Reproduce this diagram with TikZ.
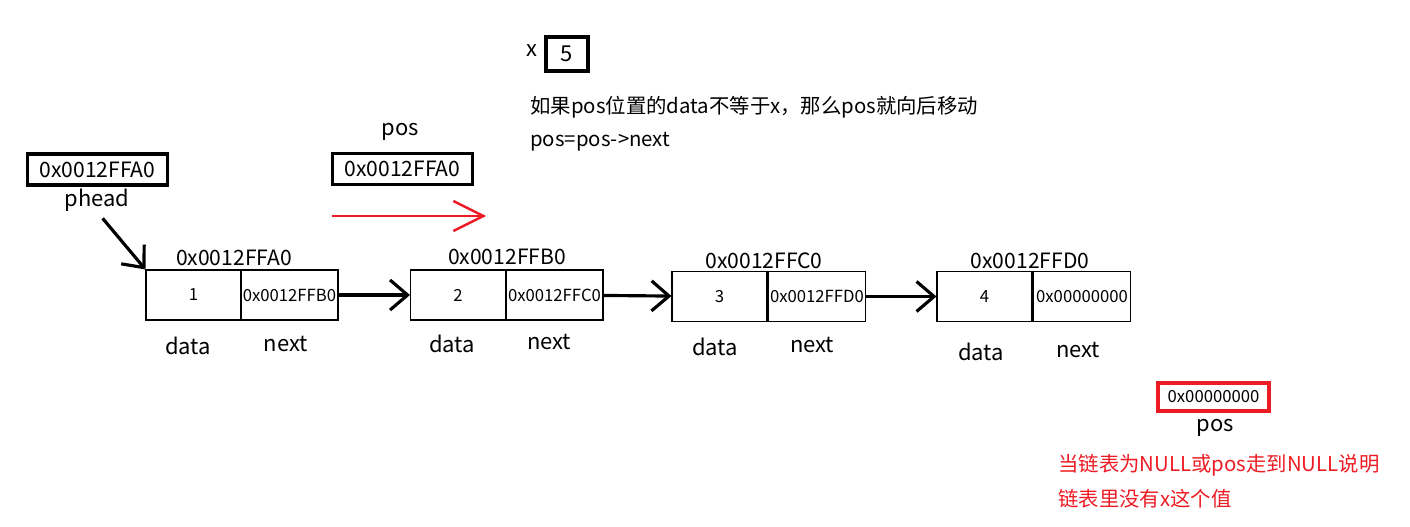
\documentclass[tikz,border=0pt]{standalone}
\usepackage{fontspec}
\setmainfont{Noto Sans CJK SC}
\usetikzlibrary{arrows.meta}
\definecolor{paintred}{RGB}{237,28,36}

\begin{document}
\begin{tikzpicture}[x=0.02cm, y=-0.02cm,
    ptrbox/.style = {rectangle, draw, line width=2pt, minimum width=2.8cm, minimum height=0.62cm, inner sep=0pt, font=\fontsize{12}{14}\selectfont},
    cell/.style = {rectangle, draw, line width=0.6pt, minimum height=1cm, inner sep=0pt, font=\fontsize{9.5}{11}\selectfont},
    datacell/.style = {cell, minimum width=1.9cm},
    nextcell/.style = {cell, minimum width=1.94cm},
    addr/.style = {font=\fontsize{12}{14}\selectfont, inner sep=0pt},
    field/.style = {font=\fontsize{12.5}{15}\selectfont, inner sep=0pt},
    note/.style = {anchor=west, font=\fontsize{11.6}{14}\selectfont, inner sep=0pt},
    line/.style = {draw, -{Straight Barb[length=3.5mm, width=6mm]}, line width=1.8pt},
    redline/.style = {draw, paintred, -{Straight Barb[length=6mm, width=6mm, line width=1.4pt]}, line width=1.4pt}
]
    \useasboundingbox (0,0) rectangle (1410,527);

    % Pointers
    \node [ptrbox] (phead) at (97.5,169.5) {0x0012FFA0};
    \node [field] (pheadlbl) at (97,200) {phead};
    \node [field] (poslbl) at (400,132) {pos};
    \node [ptrbox] (pos) at (402.5,169) {0x0012FFA0};

    \node [field] (xlbl) at (532,51) {x};
    \node [rectangle, draw, line width=2pt, minimum width=0.84cm, minimum height=0.68cm, font=\fontsize{12.5}{15}\selectfont] (xval) at (567,54) {5};

    \node [note] (info1) at (530,107) {如果pos位置的data不等于x，那么pos就向后移动};
    \node [note] (info2) at (530,142) {pos=pos->next};

    % List nodes
    \node [datacell] (d1) at (193.5,295) {1};
    \node [nextcell] (n1) at (289.5,295) {0x0012FFB0};
    \node [datacell] (d2) at (458,295) {2};
    \node [nextcell] (n2) at (554.5,295) {0x0012FFC0};
    \node [datacell] (d3) at (719.5,296.5) {3};
    \node [nextcell] (n3) at (817,296.5) {0x0012FFD0};
    \node [datacell] (d4) at (984.5,296.5) {4};
    \node [nextcell] (n4) at (1082,296.5) {0x00000000};

    \node [addr] (a1) at (234,258) {0x0012FFA0};
    \node [addr] (a2) at (507,257) {0x0012FFB0};
    \node [addr] (a3) at (764,261) {0x0012FFC0};
    \node [addr] (a4) at (1030,261) {0x0012FFD0};

    \node [field] (dl1) at (188,346) {data};
    \node [field] (nl1) at (286,344) {next};
    \node [field] (dl2) at (452,344) {data};
    \node [field] (nl2) at (549,342) {next};
    \node [field] (dl3) at (715,347) {data};
    \node [field] (nl3) at (812,345) {next};
    \node [field] (dl4) at (981,352) {data};
    \node [field] (nl4) at (1078,350) {next};

    % End of list
    \node [rectangle, draw=paintred, line width=2pt, minimum width=2.22cm, minimum height=0.56cm, inner sep=0pt, font=\fontsize{9.5}{11}\selectfont] (posnull) at (1213.5,397) {0x00000000};
    \node [field] (posnulllbl) at (1215,428) {pos};
    \node [note, text=paintred] (warn1) at (1058,465) {当链表为NULL或pos走到NULL说明};
    \node [note, text=paintred] (warn2) at (1058,499) {链表里没有x这个值};

    % Edges
    \path [line, shorten <=5pt] (pheadlbl.south) -- (d1.north west);
    \path [line] (n1) -- (d2);
    \path [line] (n2) -- (d3);
    \path [line] (n3) -- (d4);

    \coordinate (movefrom) at (332,216);
    \coordinate (moveto) at (486,216);
    \path [redline] (movefrom) -- (moveto);

\end{tikzpicture}
\end{document}
